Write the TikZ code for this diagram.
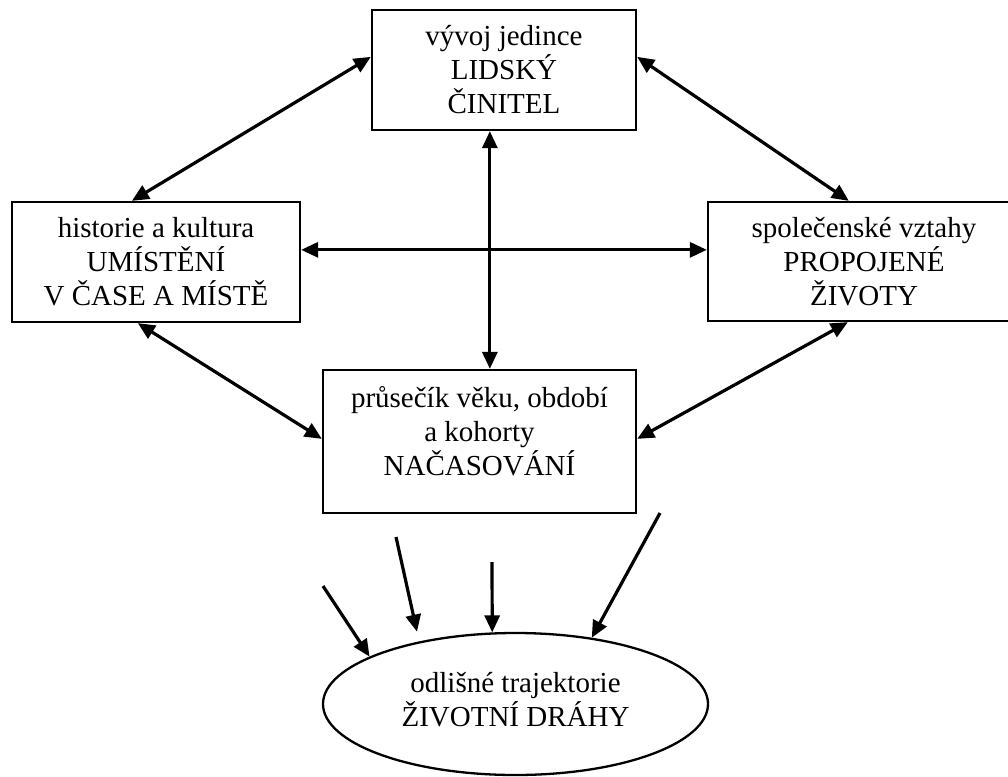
\documentclass[tikz,border=0pt]{standalone}
\usepackage{fontspec}
\setmainfont{Liberation Serif}
\usetikzlibrary{arrows.meta,shapes.geometric,calc}
\begin{document}
\begin{tikzpicture}[x=1pt,y=-1pt,
  lbl/.style={align=center, inner sep=0pt, font=\fontsize{29}{34}\selectfont},
  box/.style={draw, line width=2.3pt, rectangle, inner sep=0pt, lbl},
  tip/.style={Triangle[length=17pt,width=15pt]},
  conn/.style={line width=3.2pt, {Triangle[length=17pt,width=15pt]}-{Triangle[length=17pt,width=15pt]}},
  one/.style={line width=3.2pt, -{Triangle[length=17pt,width=15pt]}}]
\useasboundingbox (0,0) rectangle (1008,776);
\node[box, minimum width=264pt, minimum height=120pt] (T) at (504,70) {vývoj jedince\\LIDSKÝ\\ČINITEL};
\node[box, minimum width=288pt, minimum height=120pt] (L) at (156,262) {historie a kultura\\UMÍSTĚNÍ\\V ČASE A MÍSTĚ};
\node[box, minimum width=312pt, minimum height=119pt] (R) at (864,261.5) {společenské vztahy\\PROPOJENÉ\\ŽIVOTY};
\node[box, minimum width=313pt, minimum height=143pt] (M) at (479.5,441.5) {};
\node[lbl] (Mt) at (479.5,431) {průsečík věku, období\\a kohorty\\NAČASOVÁNÍ};
\node[draw, ellipse, line width=2.3pt, inner sep=0pt, minimum width=385pt, minimum height=142pt] (E) at (515.5,704) {};
\node[lbl] (Et) at (515.5,700) {odlišné trajektorie\\ŽIVOTNÍ DRÁHY};
% connectors between boxes
\draw[conn] ($(L.north west)+(121,0)$) -- ($(T.north west)+(0,48)$);
\draw[conn] ($(T.north east)+(0,48)$) -- ($(R.north west)+(142,0)$);
\draw[conn] ($(T.south west)+(119,0)$) -- ($(M.north west)+(168,0)$);
\draw[conn] ($(L.north east)+(0,49)$) -- ($(R.north west)+(0,49)$);
\draw[conn] ($(L.south west)+(127,0)$) -- ($(M.north west)+(0,70)$);
\draw[conn] ($(R.south west)+(141,0)$) -- ($(M.north east)+(0,70)$);
% arrows into the ellipse
\coordinate (a1) at (323,586);
\coordinate (a2) at (396,537);
\coordinate (a3) at (492,562);
\coordinate (a4) at (660,513);
\draw[one] (a1) -- (E.162);
\draw[one, shorten >=10pt] (a2) -- (E.147);
\draw[one] (a3) -- (E.108.4);
\draw[one] (a4) -- (E.41.9);
\end{tikzpicture}
\end{document}
